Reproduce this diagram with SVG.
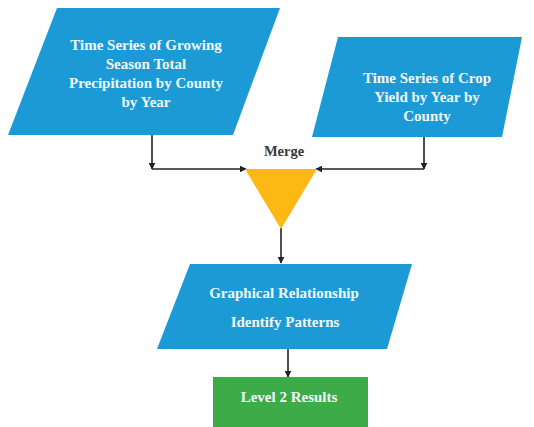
<svg xmlns="http://www.w3.org/2000/svg" width="534" height="427" viewBox="0 0 534 427">
<defs>
<style>
.para{fill:#1c9ad6}
.lbl{font-family:"Liberation Serif","DejaVu Serif",serif;font-size:15px;font-weight:bold;fill:#f4f8fb;text-anchor:middle}
.conn{stroke:#222;stroke-width:1.6;fill:none}
</style>
<marker id="ahs" viewBox="0 0 10 10" refX="9" refY="5" markerWidth="7" markerHeight="7" orient="auto" markerUnits="userSpaceOnUse">
<path d="M0,0 L10,5 L0,10 z" fill="#222"/>
</marker>
</defs>
<rect width="534" height="427" fill="#ffffff"/>
<g id="connectors">
<path class="conn" d="M152,135 V169" marker-end="url(#ahs)"/>
<path class="conn" d="M152,169 H246" marker-end="url(#ahs)"/>
<path class="conn" d="M424,137 V169" marker-end="url(#ahs)"/>
<path class="conn" d="M424,169 H316" marker-end="url(#ahs)"/>
<path class="conn" d="M281,228 V263" marker-end="url(#ahs)"/>
<path class="conn" d="M288,349 V377" marker-end="url(#ahs)"/>
</g>
<g id="node-precip">
<polygon class="para" points="57,8 280,8 233,135 8,135"/>
<text class="lbl" x="146" y="50">Time Series of Growing</text>
<text class="lbl" x="146" y="69">Season Total</text>
<text class="lbl" x="146" y="88">Precipitation by County</text>
<text class="lbl" x="146" y="107">by Year</text>
</g>
<g id="node-yield">
<polygon class="para" points="338,37 522,37 502,137 312,137"/>
<text class="lbl" x="427" y="83">Time Series of Crop</text>
<text class="lbl" x="427" y="102">Yield by Year by</text>
<text class="lbl" x="427" y="121">County</text>
</g>
<g id="node-merge">
<polygon points="245,169 317,169 281,229" fill="#fdb813"/>
<text x="284" y="156" font-family="Liberation Serif, DejaVu Serif, serif" font-size="14.5" font-weight="bold" fill="#3a3a3a" text-anchor="middle">Merge</text>
</g>
<g id="node-graph">
<polygon class="para" points="190,264 412,264 387,349 157,349"/>
<text class="lbl" x="284" y="298">Graphical Relationship</text>
<text class="lbl" x="285" y="327">Identify Patterns</text>
</g>
<g id="node-results">
<rect x="213" y="377" width="155" height="50" fill="#3dab48"/>
<text class="lbl" x="289" y="402">Level 2 Results</text>
</g>
</svg>
